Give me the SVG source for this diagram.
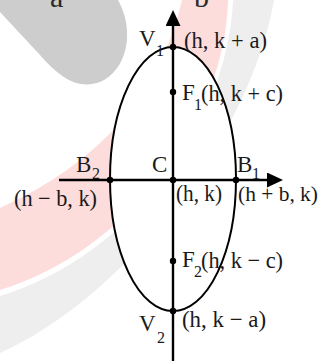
<svg xmlns="http://www.w3.org/2000/svg" width="321" height="361" viewBox="0 0 321 361">
<style>
.t{font-family:"Liberation Serif","DejaVu Serif",serif;font-size:23px;fill:#1a1a1a}
.s{font-family:"Liberation Serif","DejaVu Serif",serif;font-size:16px;fill:#1a1a1a}
.big{font-family:"Liberation Serif","DejaVu Serif",serif;font-size:30px;fill:#2a2a2a}
.ax{stroke:#000;stroke-width:2.4;fill:none}
.dot{fill:#000}
</style>
<defs>
<marker id="arr" viewBox="0 0 16 15" refX="1" refY="7.5" markerWidth="16" markerHeight="15" markerUnits="userSpaceOnUse" orient="auto">
<path d="M0,0 L16,7.5 L0,15 Z" fill="#000"/>
</marker>
</defs>
<g id="watermark">
<path d="M0,0 L118,0 C135,30 128,70 100,82 C78,90 60,78 40,55 L0,12 Z" fill="#cdcdcd"/>
<path d="M182,0 Q150,140 0,208 L0,290 C130,250 225,120 228,0 Z" fill="#fddcdc"/>
<path d="M233,0 C228,120 135,255 0,296 L0,353 C120,300 250,140 274,0 Z" fill="#eeeeee"/>
<text class="big" x="50" y="7">a</text>
<text class="big" x="194" y="7">b</text>
</g>
<g id="ellipse">
<ellipse cx="173" cy="179" rx="63" ry="132" fill="#fff" stroke="#000" stroke-width="2"/>
</g>
<g id="connectors">
<line class="ax" x1="173" y1="361" x2="173" y2="25" marker-end="url(#arr)"/>
<line class="ax" x1="59" y1="180" x2="268" y2="180" marker-end="url(#arr)"/>
</g>
<g id="V1">
<circle class="dot" cx="173" cy="47" r="3.2"/>
<text class="t" x="139" y="46">V</text><text class="s" x="156" y="56">1</text>
<text class="t" x="184" y="48" textLength="83" lengthAdjust="spacingAndGlyphs">(h, k + a)</text>
</g>
<g id="F1">
<circle class="dot" cx="173" cy="92" r="3.2"/>
<text class="t" x="182" y="100">F</text><text class="s" x="194" y="110">1</text>
<text class="t" x="201" y="101" textLength="82" lengthAdjust="spacingAndGlyphs">(h, k + c)</text>
</g>
<g id="C">
<circle class="dot" cx="173" cy="180" r="3.2"/>
<text class="t" x="152" y="172">C</text>
<text class="t" x="176" y="201" textLength="46" lengthAdjust="spacingAndGlyphs">(h, k)</text>
</g>
<g id="B2">
<circle class="dot" cx="110" cy="180" r="3.2"/>
<text class="t" x="76" y="172">B</text><text class="s" x="92" y="179">2</text>
<text class="t" x="14" y="206" textLength="83" lengthAdjust="spacingAndGlyphs">(h − b, k)</text>
</g>
<g id="B1">
<circle class="dot" cx="236" cy="180" r="3.2"/>
<text class="t" x="237" y="172">B</text><text class="s" x="252" y="179">1</text>
<text class="t" x="238" y="201" style="font-size:21px" textLength="80" lengthAdjust="spacingAndGlyphs">(h + b, k)</text>
</g>
<g id="F2">
<circle class="dot" cx="173" cy="261" r="3.2"/>
<text class="t" x="182" y="267">F</text><text class="s" x="194" y="277">2</text>
<text class="t" x="201" y="268" textLength="82" lengthAdjust="spacingAndGlyphs">(h, k − c)</text>
</g>
<g id="V2">
<circle class="dot" cx="173" cy="311" r="3.2"/>
<text class="t" x="139" y="331">V</text><text class="s" x="157" y="343">2</text>
<text class="t" x="182" y="327" textLength="84" lengthAdjust="spacingAndGlyphs">(h, k − a)</text>
</g>
</svg>
